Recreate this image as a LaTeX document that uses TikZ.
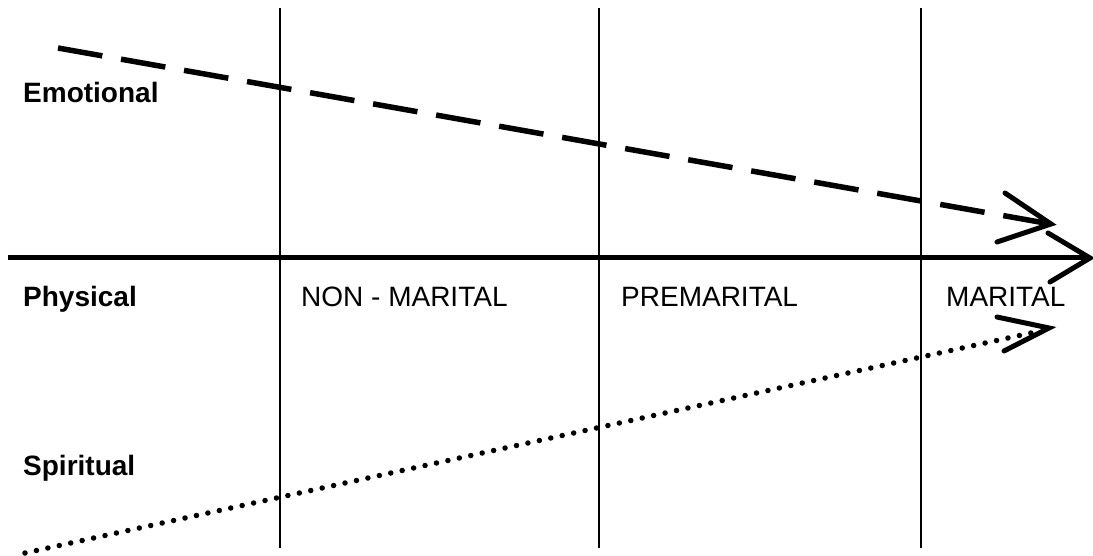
\documentclass[tikz,border=0pt]{standalone}
\usepackage{fontspec}
\setmainfont{Liberation Sans}
\begin{document}
\begin{tikzpicture}[x=1pt,y=-1pt,
  lbl/.style={anchor=base west,inner sep=0pt,font=\fontsize{28}{32}\selectfont},
  blbl/.style={lbl,font=\fontsize{28}{32}\selectfont\bfseries},
  divider/.style={line width=2pt},
  axisline/.style={line width=5pt},
  arm/.style={line width=5pt,line cap=round},
  dashline/.style={line width=5.5pt,dash pattern=on 45pt off 19pt},
  dotline/.style={line width=5.5pt,line cap=round,dash pattern=on 0pt off 11.7pt}]
\useasboundingbox (0,0) rectangle (1093,556);
% dividers
\coordinate (v1t) at (280,8);   \coordinate (v1b) at (280,548);
\coordinate (v2t) at (599,8);   \coordinate (v2b) at (599,548);
\coordinate (v3t) at (921,8);   \coordinate (v3b) at (921,548);
\draw[divider] (v1t) -- (v1b);
\draw[divider] (v2t) -- (v2b);
\draw[divider] (v3t) -- (v3b);
% axis
\coordinate (as) at (8,258);
\coordinate (at) at (1090,258);
\coordinate (au) at (1048,233);
\coordinate (ad) at (1050,282);
\draw[axisline] (as) -- (at);
\draw[arm] (au) -- (at) -- (ad);
% emotional dashed
\coordinate (es) at (58,48);
\coordinate (ee) at (1045,223);
\coordinate (et) at (1051,224);
\coordinate (eu) at (1005,193);
\coordinate (ed) at (997,242);
\draw[dashline] (es) -- (ee);
\draw[arm] (eu) -- (et) -- (ed);
% spiritual dotted
\coordinate (ss) at (25,553);
\coordinate (se) at (1040,331);
\coordinate (st) at (1049,328);
\coordinate (su) at (997,317);
\coordinate (sd) at (1004,351);
\draw[dotline] (ss) -- (se);
\draw[arm] (su) -- (st) -- (sd);
% labels
\node[blbl] (emo) at (23,103) {Emotional};
\node[blbl] (phy) at (23,306) {Physical};
\node[blbl] (spi) at (23,475) {Spiritual};
\node[lbl] (non) at (301,306) {NON - MARITAL};
\node[lbl] (pre) at (621,306) {PREMARITAL};
\node[lbl] (mar) at (946,306) {MARITAL};
\end{tikzpicture}
\end{document}
